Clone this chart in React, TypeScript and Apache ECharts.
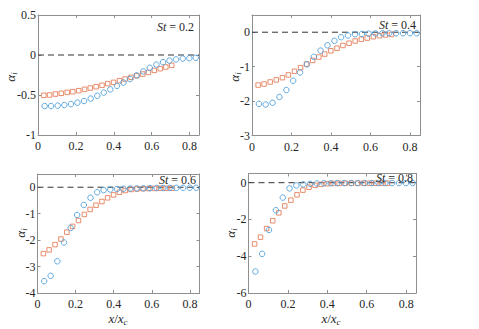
import React, { useEffect, useRef } from "react";
import * as echarts from "echarts";

// x positions of the two series (x / x_c)
const circleX = [0.035, 0.069, 0.104, 0.139, 0.174, 0.208, 0.243, 0.278, 0.313, 0.347, 0.382, 0.417, 0.451, 0.486, 0.521, 0.556, 0.590, 0.625, 0.660, 0.694, 0.729, 0.764, 0.799, 0.833];
const squareX = [0.031, 0.061, 0.092, 0.123, 0.154, 0.184, 0.215, 0.246, 0.276, 0.307, 0.338, 0.368, 0.399, 0.430, 0.460, 0.491, 0.522, 0.553, 0.583, 0.614, 0.645, 0.675, 0.706];

// alpha_i values, St = 0.2
const circles02 = [-0.638, -0.638, -0.633, -0.625, -0.613, -0.596, -0.575, -0.545, -0.51, -0.47, -0.43, -0.385, -0.345, -0.30, -0.255, -0.205, -0.16, -0.12, -0.09, -0.07, -0.055, -0.045, -0.04, -0.035];
const squares02 = [-0.504, -0.5, -0.488, -0.479, -0.467, -0.458, -0.446, -0.429, -0.413, -0.396, -0.379, -0.358, -0.342, -0.321, -0.30, -0.279, -0.258, -0.238, -0.217, -0.192, -0.171, -0.15, -0.129];
// St = 0.4
const circles04 = [-2.08, -2.10, -2.05, -1.88, -1.68, -1.41, -1.17, -0.935, -0.715, -0.535, -0.38, -0.25, -0.145, -0.095, -0.06, -0.05, -0.04, -0.035, -0.03, -0.03, -0.03, -0.03, -0.03, -0.03];
const squares04 = [-1.535, -1.505, -1.445, -1.385, -1.32, -1.24, -1.135, -1.03, -0.925, -0.82, -0.72, -0.635, -0.54, -0.465, -0.385, -0.32, -0.255, -0.205, -0.17, -0.13, -0.10, -0.08, -0.065];
// St = 0.6
const circles06 = [-3.55, -3.35, -2.80, -2.09, -1.54, -1.05, -0.67, -0.40, -0.19, -0.11, -0.085, -0.07, -0.06, -0.05, -0.045, -0.04, -0.035, -0.03, -0.03, -0.025, -0.025, -0.02, -0.02, -0.02];
const squares06 = [-2.51, -2.37, -2.17, -1.96, -1.70, -1.48, -1.26, -1.03, -0.84, -0.68, -0.54, -0.40, -0.29, -0.19, -0.125, -0.085, -0.065, -0.055, -0.05, -0.045, -0.04, -0.04, -0.04];
// St = 0.8
const circles08 = [-4.83, -3.87, -2.57, -1.50, -0.81, -0.31, -0.15, -0.09, -0.06, -0.04, -0.03, -0.03, -0.02, -0.02, -0.02, -0.02, -0.02, -0.02, -0.02, -0.02, -0.02, -0.02, -0.02, -0.02];
const squares08 = [-3.33, -2.965, -2.495, -2.07, -1.64, -1.265, -0.95, -0.66, -0.405, -0.245, -0.14, -0.09, -0.055, -0.04, -0.035, -0.03, -0.03, -0.03, -0.03, -0.03, -0.03, -0.03, -0.03];

const stLabels = ["0.2", "0.4", "0.6", "0.8"];
const xMin = 0;
const xMax = 0.85;
const xInterval = 0.2;
const yMins = [-1, -3, -4, -6];
const yMaxs = [0.5, 0.5, 0.5, 0.5];
const yIntervals = [0.5, 1, 1, 2];
const zeroLineX = [0, 0.85];

const circleSets = [circles02, circles04, circles06, circles08];
const squareSets = [squares02, squares04, squares06, squares08];

const FONT = "'Liberation Serif', 'DejaVu Serif', serif";
const AXIS_COLOR = "#8f8f8f";
const TEXT_COLOR = "#262626";
const BLUE = "#4f9fdb";
const ORANGE = "#e5805c";

const grids = [
  { left: 38, top: 15, width: 161, height: 120 },
  { left: 252, top: 15, width: 168, height: 120.5 },
  { left: 37.5, top: 174, width: 162, height: 119 },
  { left: 248.5, top: 173.5, width: 167.5, height: 119.5 },
];

const stPos = [
  { x: 194, y: 26.5 },
  { x: 416, y: 24.5 },
  { x: 196, y: 180 },
  { x: 413, y: 178 },
];
const alphaPos = [
  { x: 10.5, y: 77 },
  { x: 234, y: 77 },
  { x: 20, y: 233 },
  { x: 230, y: 233 },
];
const xLabelPos = [
  { x: 118, y: 318 },
  { x: 331, y: 318 },
];

function isMultiple(v: number, step: number) {
  const r = v / step;
  return Math.abs(r - Math.round(r)) < 1e-6;
}

function buildOption() {
  const xAxis: any[] = [];
  const yAxis: any[] = [];
  const series: any[] = [];
  const graphic: any[] = [];

  for (let i = 0; i < 4; i++) {
    const baseLine = { show: true, onZero: false, lineStyle: { color: AXIS_COLOR, width: 1 } };
    const tick = { show: true, inside: true, length: 3, lineStyle: { color: AXIS_COLOR } };
    const yi = yIntervals[i];
    xAxis.push({
      type: "value",
      gridIndex: i,
      position: "bottom",
      min: xMin,
      max: xMax,
      interval: xInterval,
      axisLine: baseLine,
      axisTick: tick,
      splitLine: { show: false },
      axisLabel: {
        show: true,
        margin: 5,
        color: TEXT_COLOR,
        fontFamily: FONT,
        fontSize: 12,
        formatter: (v: number) => (isMultiple(v, xInterval) ? String(+v.toFixed(2)) : ""),
      },
    });
    xAxis.push({
      type: "value",
      gridIndex: i,
      position: "top",
      min: xMin,
      max: xMax,
      interval: xInterval,
      axisLine: baseLine,
      axisTick: tick,
      splitLine: { show: false },
      axisLabel: { show: false },
    });
    yAxis.push({
      type: "value",
      gridIndex: i,
      position: "left",
      min: yMins[i],
      max: yMaxs[i],
      interval: yi,
      axisLine: baseLine,
      axisTick: tick,
      splitLine: { show: false },
      axisLabel: {
        show: true,
        margin: 2,
        color: TEXT_COLOR,
        fontFamily: FONT,
        fontSize: 12,
        formatter: (v: number) => (isMultiple(v, yi) ? String(+v.toFixed(2)) : ""),
      },
    });
    yAxis.push({
      type: "value",
      gridIndex: i,
      position: "right",
      min: yMins[i],
      max: yMaxs[i],
      interval: yi,
      axisLine: baseLine,
      axisTick: tick,
      splitLine: { show: false },
      axisLabel: { show: false },
    });

    series.push({
      type: "line",
      xAxisIndex: i * 2,
      yAxisIndex: i * 2,
      data: zeroLineX.map((x) => [x, 0]),
      symbol: "none",
      silent: true,
      lineStyle: { color: "#333", width: 1, type: [6, 4] },
      z: 1,
    });
    series.push({
      type: "scatter",
      xAxisIndex: i * 2,
      yAxisIndex: i * 2,
      data: circleX.map((x, k) => [x, circleSets[i][k]]),
      symbol: "circle",
      symbolSize: 5.5,
      itemStyle: { color: "rgba(0,0,0,0)", borderColor: BLUE, borderWidth: 0.9, opacity: 1 },
      z: 3,
    });
    series.push({
      type: "scatter",
      xAxisIndex: i * 2,
      yAxisIndex: i * 2,
      data: squareX.map((x, k) => [x, squareSets[i][k]]),
      symbol: "rect",
      symbolSize: 4.5,
      itemStyle: { color: "rgba(0,0,0,0)", borderColor: ORANGE, borderWidth: 0.9, opacity: 1 },
      z: 2,
    });

    graphic.push({
      type: "text",
      x: stPos[i].x,
      y: stPos[i].y,
      z: 10,
      style: {
        text: "{i|St} = " + stLabels[i],
        align: "right",
        verticalAlign: "middle",
        fontFamily: FONT,
        fontSize: 12,
        fill: TEXT_COLOR,
        rich: {
          i: { fontFamily: FONT, fontSize: 12, fontStyle: "italic", fill: TEXT_COLOR },
        },
      },
    });
    graphic.push({
      type: "text",
      x: alphaPos[i].x,
      y: alphaPos[i].y,
      rotation: Math.PI / 2,
      style: {
        text: "{a|α}{b|i}",
        align: "center",
        verticalAlign: "middle",
        fill: TEXT_COLOR,
        rich: {
          a: { fontFamily: FONT, fontSize: 13, fontStyle: "italic", lineHeight: 16, verticalAlign: "middle", fill: TEXT_COLOR },
          b: { fontFamily: FONT, fontSize: 9, fontStyle: "italic", verticalAlign: "bottom", fill: TEXT_COLOR },
        },
      },
    });
  }

  for (const p of xLabelPos) {
    graphic.push({
      type: "text",
      x: p.x,
      y: p.y,
      style: {
        text: "{a|x}{n|/}{a|x}{b|c}",
        align: "center",
        verticalAlign: "middle",
        fill: TEXT_COLOR,
        rich: {
          a: { fontFamily: FONT, fontSize: 13, fontStyle: "italic", lineHeight: 16, verticalAlign: "middle", fill: TEXT_COLOR },
          n: { fontFamily: FONT, fontSize: 13, lineHeight: 16, verticalAlign: "middle", fill: TEXT_COLOR },
          b: { fontFamily: FONT, fontSize: 9, fontStyle: "italic", verticalAlign: "bottom", fill: TEXT_COLOR },
        },
      },
    });
  }

  return {
    animation: false,
    backgroundColor: "#ffffff",
    grid: grids.map((g) => ({ ...g, containLabel: false })),
    xAxis,
    yAxis,
    series,
    graphic,
  };
}

export default function App() {
  const ref = useRef<HTMLDivElement>(null);
  useEffect(() => {
    if (!ref.current) return;
    const chart = echarts.init(ref.current, undefined, { renderer: "svg" });
    chart.setOption(buildOption() as any);
    return () => chart.dispose();
  }, []);
  return (
    <div
      ref={ref}
      style={{ position: "fixed", left: 0, top: 0, width: 479, height: 329, background: "#fff" }}
    />
  );
}
